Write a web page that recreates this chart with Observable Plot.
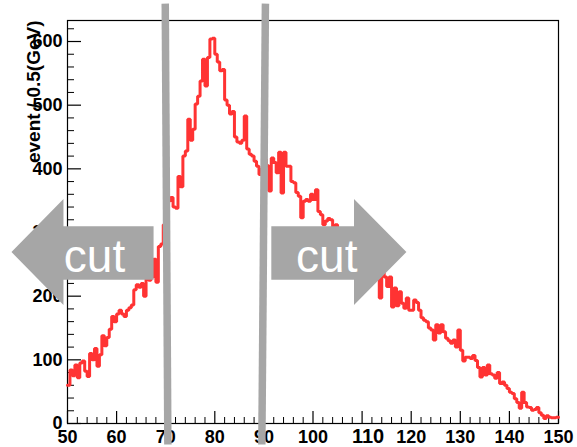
<!DOCTYPE html>
<html>
<head>
<meta charset="utf-8">
<script src="https://cdn.jsdelivr.net/npm/d3@7"></script>
<script src="https://cdn.jsdelivr.net/npm/@observablehq/plot@0.6"></script>
<style>
  html, body { margin: 0; padding: 0; background: #fff; }
  #chart svg { display: block; }
</style>
</head>
<body>
<div id="chart"></div>
<script>
// Histogram: 200 bins of 0.5 GeV from 50 to 150
const binStart = 50;
const binWidth = 0.5;
const counts = [
  60, 84, 75, 92, 72, 95, 98, 82, 74, 110,
  100, 118, 90, 108, 138, 122, 135, 148, 168, 160,
  172, 178, 172, 168, 178, 182, 186, 210, 218, 214,
  220, 200, 228, 225, 230, 258, 222, 278, 282, 312,
  330, 350, 355, 340, 338, 388, 372, 420, 428, 478,
  445, 462, 502, 514, 538, 572, 530, 575, 604, 605,
  580, 568, 554, 556, 508, 500, 486, 490, 450, 442,
  440, 445, 483, 431, 423, 420, 412, 404, 391, 400,
  415, 405, 365, 417, 410, 394, 426, 362, 426, 404,
  404, 380, 378, 363, 357, 323, 349, 352, 349, 360,
  352, 367, 333, 328, 312, 318, 322, 320, 309, 312,
  300, 296, 290, 285, 282, 276, 270, 272, 262, 258,
  255, 250, 245, 244, 240, 236, 229, 197, 237, 230,
  215, 230, 183, 213, 185, 207, 189, 181, 197, 178,
  178, 194, 190, 178, 166, 162, 160, 150, 147, 131,
  155, 142, 155, 144, 134, 130, 126, 131, 120, 147,
  115, 98, 104, 104, 102, 107, 99, 88, 73, 88,
  76, 92, 78, 76, 71, 80, 63, 65, 60, 55,
  49, 47, 39, 33, 24, 49, 33, 26, 25, 21,
  22, 25, 17, 13, 8, 12, 10, 9, 9, 10
];

// Axis ticks
const xMajorTicks = [50, 60, 70, 80, 90, 100, 110, 120, 130, 140, 150];
const xMinorTicks = d3.range(50, 150.001, 2).filter(v => v % 10 !== 0);
const yMajorTicks = [0, 100, 200, 300, 400, 500, 600];
const yMinorTicks = d3.range(0, 633, 20).filter(v => v % 100 !== 0);
const xTickLabels = ["50", "60", "70", "80", "90", "100", "110", "120", "130", "140", "150"];
const yTickLabels = ["0", "100", "200", "300", "400", "500", "600"];
const yTitle = "event / 0.5(GeV)";

// Annotations: cut lines (data units, slightly tilted as drawn) and arrows
const cutLines = [
  {x1: 69.91, y1: 659.5, x2: 70.44, y2: -33},
  {x1: 90.31, y1: 659.5, x2: 89.58, y2: -33}
];
const leftArrow = [
  [38.59, 269.3], [49.18, 352.6], [49.18, 309.7], [67.53, 309.7],
  [67.53, 225.6], [49.18, 225.6], [49.18, 186.2], [38.59, 269.3]
];
const rightArrow = [
  [91.51, 309.7], [108.35, 309.7], [108.35, 352.6], [119.02, 269.3],
  [108.35, 186.2], [108.35, 225.6], [91.51, 225.6], [91.51, 309.7]
];
const cutLabels = [
  {x: 55.5, y: 261.4, text: "cut"},
  {x: 102.8, y: 261.4, text: "cut"}
];

const histPoints = counts.map((c, i) => ({x: binStart + i * binWidth, y: c}));
histPoints.push({x: binStart + counts.length * binWidth, y: counts[counts.length - 1]});

const W = 577, H = 447;
const mL = 67, mR = 19, mT = 20, mB = 24;
const plotW = W - mL - mR, plotH = H - mT - mB;
const font = "'Liberation Sans', Arial, Helvetica, sans-serif";
const gray = "#a6a6a6";

const chart = Plot.plot({
  width: W,
  height: H,
  marginLeft: mL,
  marginRight: mR,
  marginTop: mT,
  marginBottom: mB,
  x: {domain: [50, 150], axis: null},
  y: {domain: [0, 633], axis: null},
  style: {fontFamily: font, background: "#fff", overflow: "visible"},
  marks: [
    Plot.frame({stroke: "#000", strokeWidth: 1.2}),
    // x ticks inside the frame
    Plot.tickX(xMajorTicks, {x: d => d, insetTop: plotH - 12, stroke: "#000", strokeWidth: 1.2}),
    Plot.tickX(xMinorTicks, {x: d => d, insetTop: plotH - 6, stroke: "#000", strokeWidth: 1}),
    // y ticks inside the frame
    Plot.tickY(yMajorTicks, {y: d => d, insetRight: plotW - 14, stroke: "#000", strokeWidth: 1.2}),
    Plot.tickY(yMinorTicks, {y: d => d, insetRight: plotW - 7, stroke: "#000", strokeWidth: 1}),
    // histogram
    Plot.line(histPoints, {x: "x", y: "y", curve: "step-after", stroke: "#ff3333", strokeWidth: 3, strokeLinejoin: "miter"}),
    // tick labels
    Plot.text(xMajorTicks.filter(v => v !== 110), {
      x: d => d, frameAnchor: "bottom", lineAnchor: "top", dy: 7,
      text: d => xTickLabels[xMajorTicks.indexOf(d)],
      fontSize: 18, fontWeight: "bold", fill: "#000"
    }),
    Plot.text([110], {
      x: d => d, frameAnchor: "bottom", lineAnchor: "top", dy: 5, dx: 6,
      text: d => xTickLabels[xMajorTicks.indexOf(d)],
      fontSize: 20, fontWeight: 900, fill: "#000"
    }),
    Plot.text(yMajorTicks, {
      y: d => d, frameAnchor: "left", textAnchor: "end", dx: -5,
      text: d => yTickLabels[yMajorTicks.indexOf(d)],
      fontSize: 18, fontWeight: "bold", fill: "#000"
    }),
    Plot.text([yTitle], {
      frameAnchor: "top-left", rotate: -90, textAnchor: "end", dx: -41, dy: 0,
      text: d => d, fontSize: 19, fontWeight: "bold", fill: "#000"
    }),
    // cut lines
    Plot.link(cutLines, {x1: "x1", y1: "y1", x2: "x2", y2: "y2", stroke: gray, strokeWidth: 7.5, strokeLinecap: "butt"}),
    // arrows
    Plot.line(leftArrow, {x: d => d[0], y: d => d[1], fill: gray, stroke: "none"}),
    Plot.line(rightArrow, {x: d => d[0], y: d => d[1], fill: gray, stroke: "none"}),
    Plot.text(cutLabels, {x: "x", y: "y", text: "text", fill: "#fff", fontSize: 46, textAnchor: "middle"})
  ]
});

document.getElementById("chart").appendChild(chart);
</script>
</body>
</html>
